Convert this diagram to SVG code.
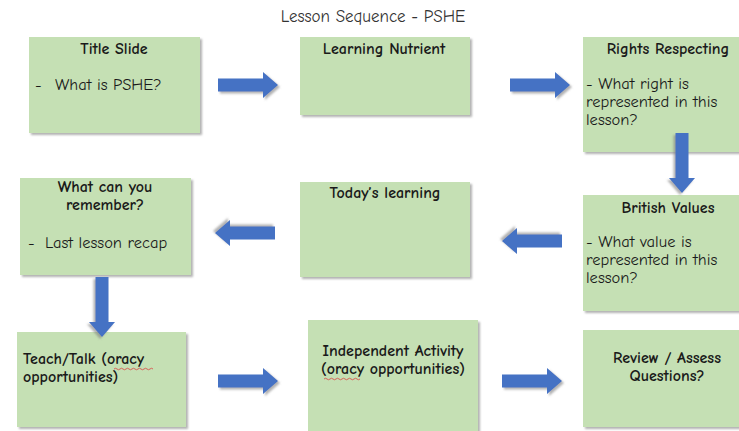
<svg xmlns="http://www.w3.org/2000/svg" width="739" height="431" viewBox="0 0 739 431">
  <defs>
    <filter id="shadow" x="-5%" y="-5%" width="115%" height="120%">
      <feDropShadow dx="2" dy="2" stdDeviation="1" flood-color="#7f7f7f" flood-opacity="0.6"/>
    </filter>
    <!-- block arrow pointing right, 60 x 26, origin at tail centre -->
    <path id="blockArrow" d="M0,-6.5 H45 V-13 L60,0 L45,13 V6.5 H0 Z"/>
  </defs>
  <style>
    .box { fill: #C5E0B4; filter: url(#shadow); }
    .arrow { fill: #4472C4; filter: url(#shadow); }
    text { font-family: "Comic Sans MS", "Comic Neue", "DejaVu Sans", sans-serif; fill: #1a1a1a; }
    .title { font-size: 17px; fill: #333; }
    .head { font-size: 16px; font-weight: bold; text-anchor: middle; }
    .lead { font-size: 16px; font-weight: bold; }
    .body { font-size: 16.5px; }
    .squiggle { fill: none; stroke: #d9534f; stroke-width: 0.9; }
  </style>

  <rect width="739" height="431" fill="#ffffff"/>

  <text class="title" x="373" y="22" text-anchor="middle">Lesson Sequence - PSHE</text>

  <g id="title-slide">
    <rect class="box" x="29" y="37" width="171" height="96"/>
    <text class="head" x="114" y="54">Title Slide</text>
    <text class="body" y="90"><tspan x="35">-</tspan><tspan x="55">What is PSHE?</tspan></text>
  </g>

  <g id="learning-nutrient">
    <rect class="box" x="300" y="37" width="170" height="78"/>
    <text class="head" x="384" y="54">Learning Nutrient</text>
  </g>

  <g id="rights-respecting">
    <rect class="box" x="583" y="37" width="170" height="115"/>
    <text class="head" x="668" y="54">Rights Respecting</text>
    <text class="body" x="586" y="89">- What right is</text>
    <text class="body" x="586" y="107">represented in this</text>
    <text class="body" x="586" y="125">lesson?</text>
  </g>

  <g id="british-values">
    <rect class="box" x="583" y="195" width="170" height="116"/>
    <text class="head" x="668" y="213">British Values</text>
    <text class="body" x="586" y="247">- What value is</text>
    <text class="body" x="586" y="265">represented in this</text>
    <text class="body" x="586" y="283">lesson?</text>
  </g>

  <g id="todays-learning">
    <rect class="box" x="300" y="182" width="170" height="95"/>
    <text class="head" x="385" y="198">Today’s learning</text>
  </g>

  <g id="what-can-you-remember">
    <rect class="box" x="20" y="178" width="171" height="97"/>
    <text class="head" x="105" y="192">What can you</text>
    <text class="head" x="105" y="210">remember?</text>
    <text class="body" y="248"><tspan x="28">-</tspan><tspan x="45">Last lesson recap</tspan></text>
  </g>

  <g id="teach-talk">
    <rect class="box" x="17" y="332" width="169" height="95"/>
    <text class="lead" x="23" y="364">Teach/Talk (oracy</text>
    <text class="lead" x="23" y="382">opportunities)</text>
    <path class="squiggle" d="M114,369 q1.5,-1.5 3,0 t3,0 t3,0 t3,0 t3,0 t3,0 t3,0 t3,0 t3,0 t3,0 t3,0 t3,0 t3,0"/>
  </g>

  <g id="independent-activity">
    <rect class="box" x="308" y="320" width="170" height="120"/>
    <text class="head" x="393" y="356">Independent Activity</text>
    <text class="head" x="393" y="374">(oracy opportunities)</text>
    <path class="squiggle" d="M324,379 q1.5,-1.5 3,0 t3,0 t3,0 t3,0 t3,0 t3,0 t3,0 t3,0 t3,0 t3,0 t3,0 t3,0"/>
  </g>

  <g id="review-assess">
    <rect class="box" x="583" y="330" width="170" height="97"/>
    <text class="head" x="667" y="363">Review / Assess</text>
    <text class="head" x="667" y="381">Questions?</text>
  </g>

  <g id="connectors">
    <use href="#blockArrow" class="arrow" transform="translate(218,85)"/>
    <use href="#blockArrow" class="arrow" transform="translate(510,85)"/>
    <use href="#blockArrow" class="arrow" transform="translate(682,133) rotate(90)"/>
    <use href="#blockArrow" class="arrow" transform="translate(562,241) rotate(180)"/>
    <use href="#blockArrow" class="arrow" transform="translate(275,233) rotate(180)"/>
    <use href="#blockArrow" class="arrow" transform="translate(102,277) rotate(90)"/>
    <use href="#blockArrow" class="arrow" transform="translate(218,381)"/>
    <use href="#blockArrow" class="arrow" transform="translate(502,381)"/>
  </g>
</svg>
